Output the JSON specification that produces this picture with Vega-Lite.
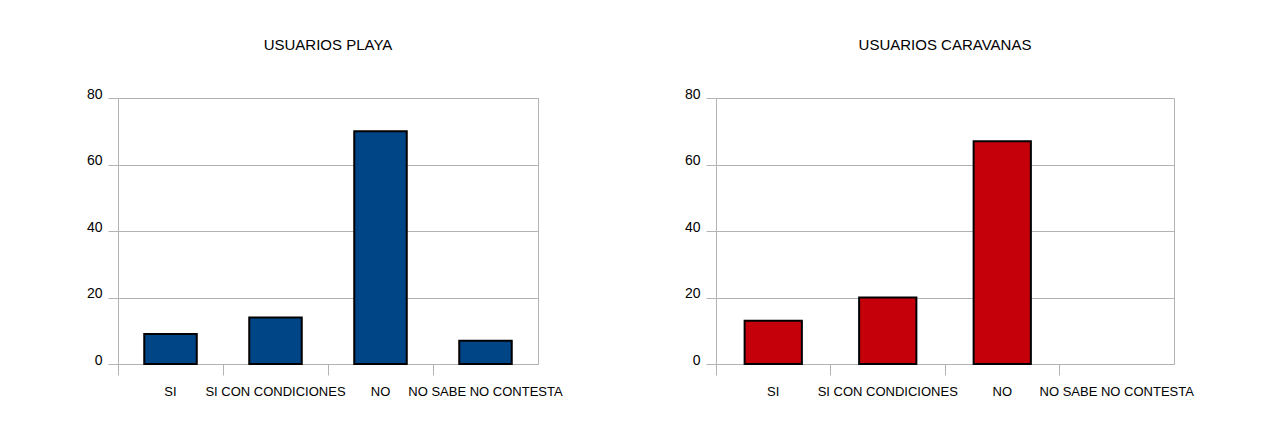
{
  "$schema": "https://vega.github.io/schema/vega-lite/v6.json",
  "background": "white",
  "padding": {"left": 85, "top": 37, "right": 5, "bottom": 5},
  "spacing": 178,
  "bounds": "flush",
  "config": {
    "font": "Liberation Sans",
    "view": {"stroke": "#b3b3b3", "strokeWidth": 1},
    "title": {"fontSize": 15, "fontWeight": "normal", "color": "black", "anchor": "middle", "offset": 34},
    "axis": {"labelColor": "black", "labelFont": "Liberation Sans", "domainColor": "#b3b3b3", "tickColor": "#b3b3b3", "gridColor": "#b3b3b3", "gridOpacity": 1, "domainWidth": 1, "tickWidth": 1, "gridWidth": 1}
  },
  "hconcat": [
    {
      "title": "USUARIOS PLAYA",
      "width": 420,
      "height": 266,
      "data": {"values": [
        {"cat": "SI", "v": 9},
        {"cat": "SI CON CONDICIONES", "v": 14},
        {"cat": "NO", "v": 70},
        {"cat": "NO SABE NO CONTESTA", "v": 7}
      ]},
      "mark": {"type": "bar", "width": {"band": 0.5}, "fill": "#004586", "stroke": "black", "strokeWidth": 2},
      "encoding": {
        "x": {"field": "cat", "type": "nominal", "sort": null,
          "scale": {"domain": ["SI", "SI CON CONDICIONES", "NO", "NO SABE NO CONTESTA"], "paddingInner": 0, "paddingOuter": 0},
          "axis": {"title": null, "labelAngle": 0, "bandPosition": 0, "tickSize": 11, "labelPadding": 10, "labelFontSize": 13, "grid": false}},
        "y": {"field": "v", "type": "quantitative",
          "scale": {"domain": [0, 80], "nice": false},
          "axis": {"title": null, "values": [0, 20, 40, 60, 80], "tickSize": 10, "labelPadding": 6, "labelFontSize": 14, "labelBaseline": "alphabetic", "grid": true}}
      }
    },
    {
      "title": "USUARIOS CARAVANAS",
      "width": 458,
      "height": 266,
      "data": {"values": [
        {"cat": "SI", "v": 13},
        {"cat": "SI CON CONDICIONES", "v": 20},
        {"cat": "NO", "v": 67},
        {"cat": "NO SABE NO CONTESTA", "v": 0}
      ]},
      "mark": {"type": "bar", "width": {"band": 0.5}, "fill": "#c5000b", "strokeWidth": 2},
      "encoding": {
        "x": {"field": "cat", "type": "nominal", "sort": null,
          "scale": {"domain": ["SI", "SI CON CONDICIONES", "NO", "NO SABE NO CONTESTA"], "paddingInner": 0, "paddingOuter": 0},
          "axis": {"title": null, "labelAngle": 0, "bandPosition": 0, "tickSize": 11, "labelPadding": 10, "labelFontSize": 13, "grid": false}},
        "y": {"field": "v", "type": "quantitative",
          "scale": {"domain": [0, 80], "nice": false},
          "axis": {"title": null, "values": [0, 20, 40, 60, 80], "tickSize": 10, "labelPadding": 6, "labelFontSize": 14, "labelBaseline": "alphabetic", "grid": true}},
        "stroke": {"condition": {"test": "datum.v > 0", "value": "black"}, "value": "transparent"}
      }
    }
  ]
}
